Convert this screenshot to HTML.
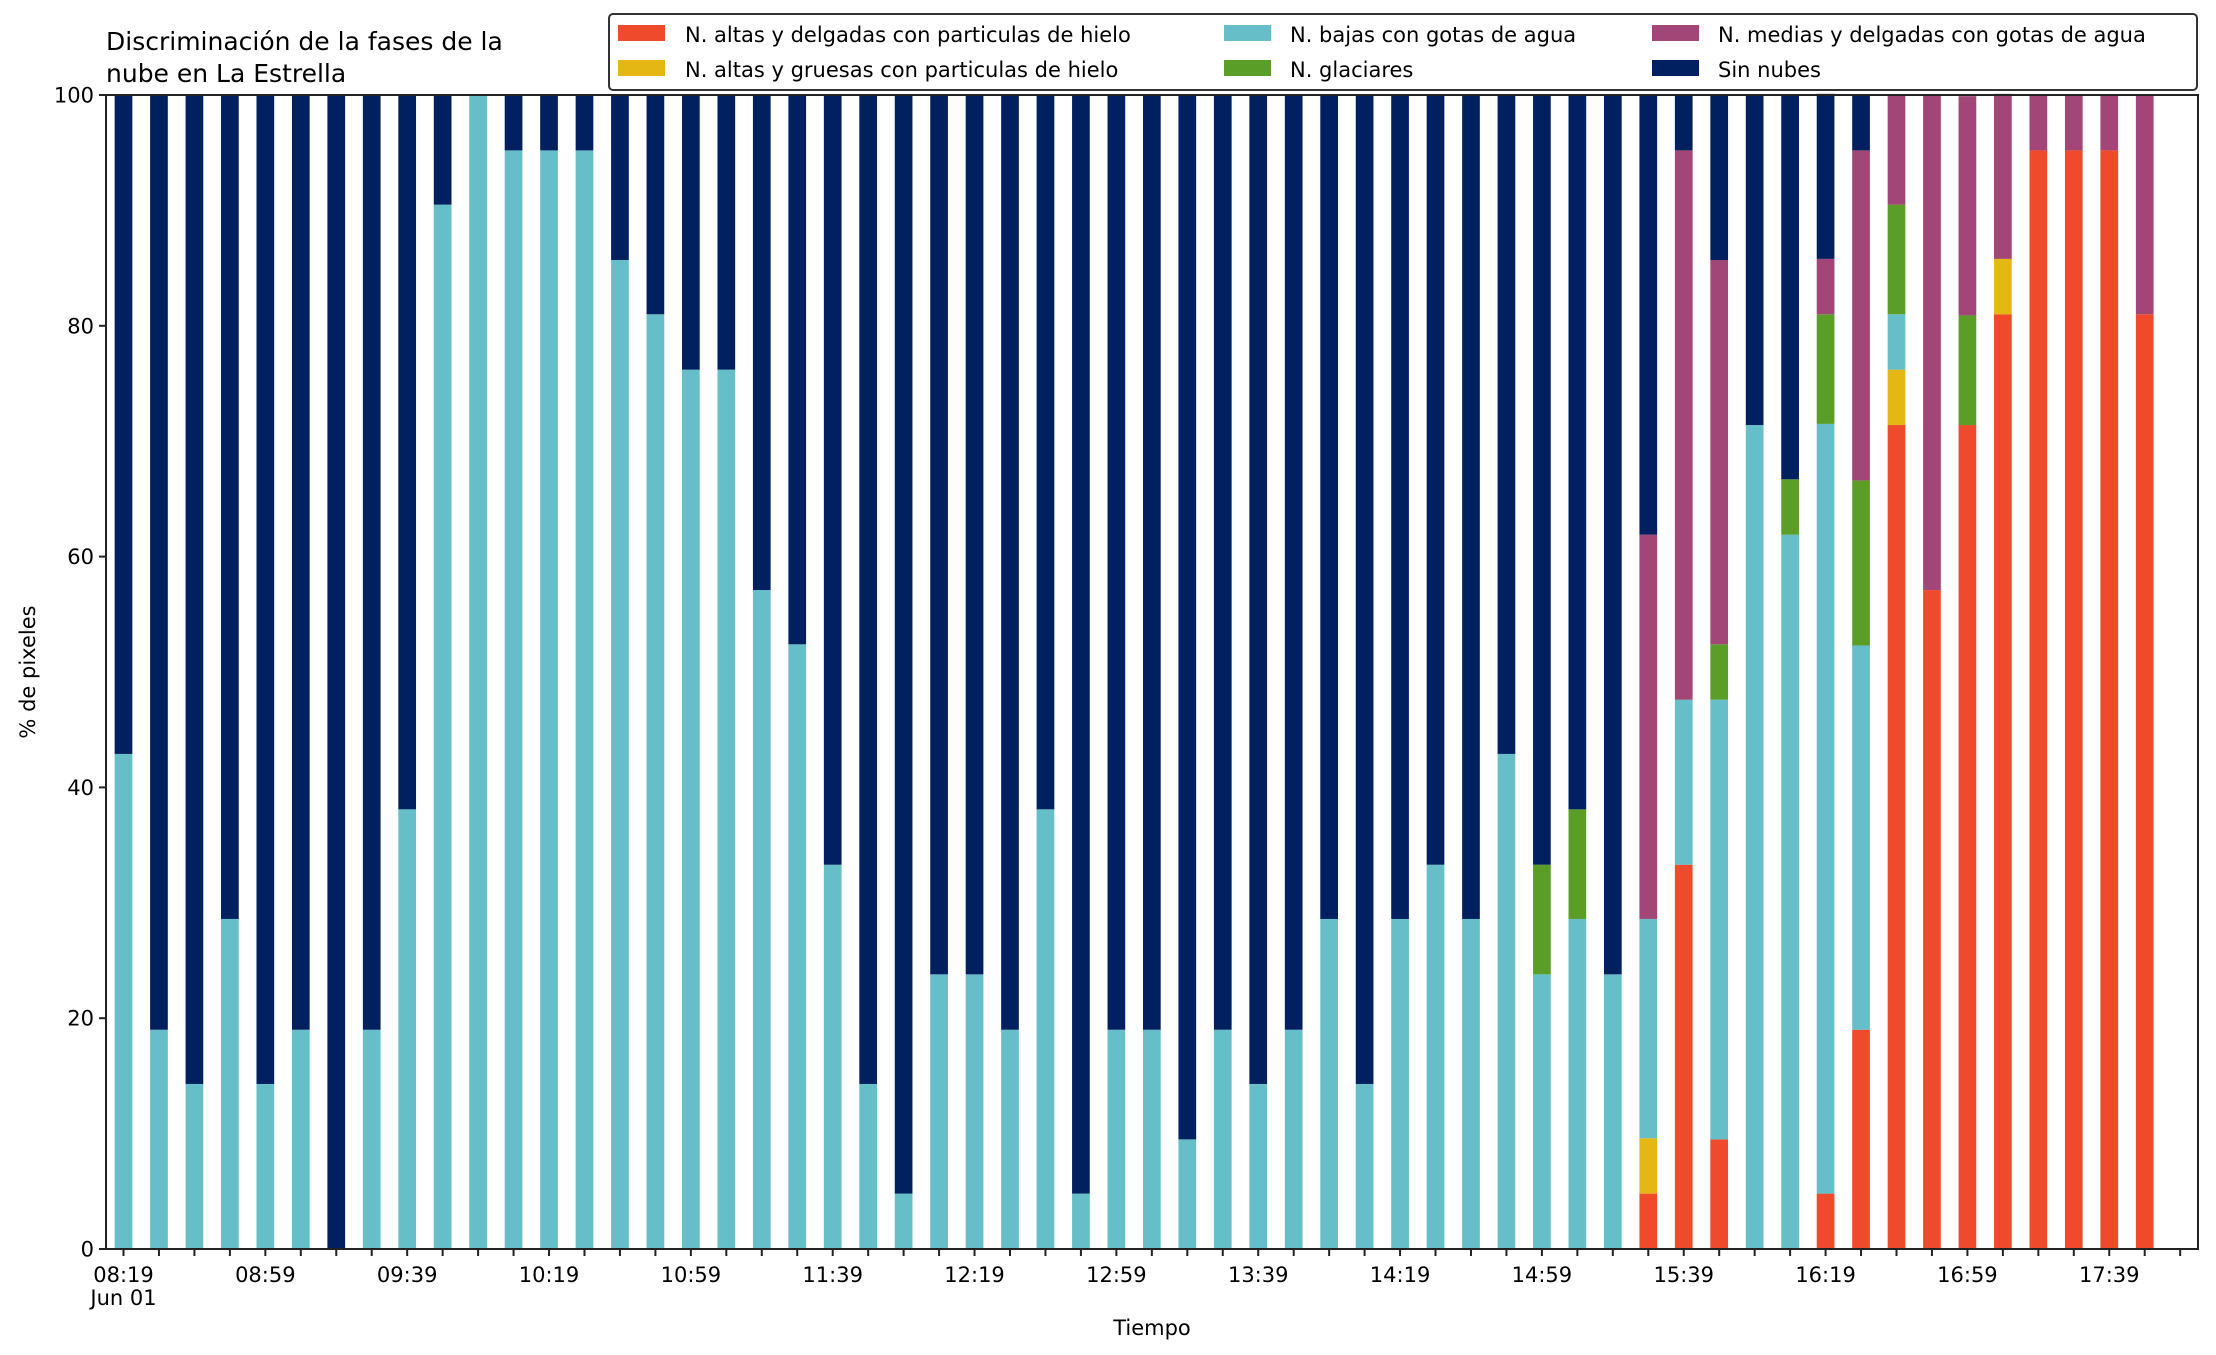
<!DOCTYPE html>
<html><head><meta charset="utf-8"><style>
html,body{margin:0;padding:0;background:#fff;}
svg{display:block;font-family:"DejaVu Sans","Liberation Sans",sans-serif;}
</style></head><body>
<svg id="chart" width="2216" height="1355" viewBox="0 0 2216 1355" xmlns="http://www.w3.org/2000/svg">
<rect x="0" y="0" width="2216" height="1355" fill="#fff"/>
<text x="106" y="50" font-size="25" fill="#000">Discriminación de la fases de la</text>
<text x="106" y="82" font-size="25" fill="#000">nube en La Estrella</text>
<g id="bars"></g>
<g id="axes"></g>
<text x="1152" y="1335" font-size="21" text-anchor="middle" fill="#000">Tiempo</text>
<text transform="translate(35,672) rotate(-90)" font-size="21" text-anchor="middle" fill="#000">% de pixeles</text>
<g>
<rect x="609" y="14" width="1588" height="76" rx="4" fill="#fff" stroke="#333" stroke-width="2"/>
<g><rect x="618" y="25" width="47" height="16" fill="#EE4A2B"/><text x="685" y="42" font-size="21">N. altas y delgadas con particulas de hielo</text></g>
<g><rect x="618" y="60" width="47" height="16" fill="#E5B714"/><text x="685" y="77" font-size="21">N. altas y gruesas con particulas de hielo</text></g>
<g><rect x="1224" y="25" width="47" height="16" fill="#65BEC8"/><text x="1290" y="42" font-size="21">N. bajas con gotas de agua</text></g>
<g><rect x="1224" y="60" width="47" height="16" fill="#5A9E28"/><text x="1290" y="77" font-size="21">N. glaciares</text></g>
<g><rect x="1652" y="25" width="47" height="16" fill="#A24577"/><text x="1718" y="42" font-size="21">N. medias y delgadas con gotas de agua</text></g>
<g><rect x="1652" y="60" width="47" height="16" fill="#012060"/><text x="1718" y="77" font-size="21">Sin nubes</text></g>
</g>
</svg>
<script>
const seriesNames = ["altas-delgadas","altas-gruesas","bajas","glaciares","medias","sin-nubes"];
const seriesColors = ["#EE4A2B","#E5B714","#65BEC8","#5A9E28","#A24577","#012060"];
const redVals = [0,0,0,0,0,0,0,0,0,0,0,0,0,0,0,0,0,0,0,0,0,0,0,0,0,0,0,0,0,0,0,0,0,0,0,0,0,0,0,0,0,0,0,4.8,33.3,9.5,0,0,4.8,19.0,71.4,57.1,71.4,81.0,95.2,95.2,95.2,81.0];
const yellowVals = [0,0,0,0,0,0,0,0,0,0,0,0,0,0,0,0,0,0,0,0,0,0,0,0,0,0,0,0,0,0,0,0,0,0,0,0,0,0,0,0,0,0,0,4.8,0,0,0,0,0,0,4.8,0,0,4.8,0,0,0,0];
const cyanVals = [42.9,19.0,14.3,28.6,14.3,19.0,0,19.0,38.1,90.5,100,95.2,95.2,95.2,85.7,81.0,76.2,76.2,57.1,52.4,33.3,14.3,4.8,23.8,23.8,19.0,38.1,4.8,19.0,19.0,9.5,19.0,14.3,19.0,28.6,14.3,28.6,33.3,28.6,42.9,23.8,28.6,23.8,19.0,14.3,38.1,71.4,61.9,66.7,33.3,4.8,0,0,0,0,0,0,0];
const greenVals = [0,0,0,0,0,0,0,0,0,0,0,0,0,0,0,0,0,0,0,0,0,0,0,0,0,0,0,0,0,0,0,0,0,0,0,0,0,0,0,0,9.5,9.5,0,0,0,4.8,0,4.8,9.5,14.3,9.5,0,9.5,0,0,0,0,0];
const magentaVals = [0,0,0,0,0,0,0,0,0,0,0,0,0,0,0,0,0,0,0,0,0,0,0,0,0,0,0,0,0,0,0,0,0,0,0,0,0,0,0,0,0,0,0,33.3,47.6,33.3,0,0,4.8,28.6,9.5,42.9,19.0,14.3,4.8,4.8,4.8,19.0];
const darkVals = [57.1,81.0,85.7,71.4,85.7,81.0,100,81.0,61.9,9.5,0,4.8,4.8,4.8,14.3,19.0,23.8,23.8,42.9,47.6,66.7,85.7,95.2,76.2,76.2,81.0,61.9,95.2,81.0,81.0,90.5,81.0,85.7,81.0,71.4,85.7,71.4,66.7,71.4,57.1,66.7,61.9,76.2,38.1,4.8,14.3,28.6,33.3,14.3,4.8,0,0,0,0,0,0,0,0];
const xTickLabels = ["08:19","08:59","09:39","10:19","10:59","11:39","12:19","12:59","13:39","14:19","14:59","15:39","16:19","16:59","17:39"];
const yTickLabels = [0,20,40,60,80,100];

const NS = "http://www.w3.org/2000/svg";
const allSeries = [redVals,yellowVals,cyanVals,greenVals,magentaVals,darkVals];
const nBars = redVals.length;
const X0 = 106, X1 = 2198, Y0 = 1249, Y1 = 95;
const step = 35.46, firstX = 123.5, barW = 17.7;
function xScale(i){ return firstX + i*step; }
function yScale(v){ return Y0 - (v/100)*(Y0-Y1); }
function mk(tag, attrs, parent){ const e=document.createElementNS(NS,tag); for(const k in attrs) e.setAttribute(k,attrs[k]); parent.appendChild(e); return e; }

const barsG = document.getElementById('bars');
for(let i=0;i<nBars;i++){
  let base = 0;
  for(let s=0;s<allSeries.length;s++){
    const v = allSeries[s][i];
    if(v>0){
      const r = mk('rect',{x:(xScale(i)-barW/2).toFixed(2), y:yScale(base+v).toFixed(2), width:barW, height:(yScale(base)-yScale(base+v)).toFixed(2), fill:seriesColors[s]}, barsG);
      
      
    }
    base += v;
  }
}

const ax = document.getElementById('axes');
const frame = mk('rect',{x:X0,y:Y1,width:X1-X0,height:Y0-Y1,fill:'none',stroke:'#222','stroke-width':2},ax);


for(const v of yTickLabels){
  const y=yScale(v);
  const t=mk('line',{x1:X0-7,x2:X0,y1:y,y2:y,stroke:'#222','stroke-width':2},ax);
  
  
  const l=mk('text',{x:X0-12,y:y+7.5,'font-size':21,'text-anchor':'end',fill:'#000'},ax);
  l.textContent=String(v);
  
  
}
for(let i=0;i<=nBars;i++){
  const x=xScale(i);
  const t=mk('line',{x1:x,x2:x,y1:Y0,y2:Y0+7,stroke:'#222','stroke-width':2},ax);
  
  
}
for(let k=0;k<xTickLabels.length;k++){
  const x=xScale(k*4);
  const l=mk('text',{x:x,y:1282,'font-size':21,'text-anchor':'middle',fill:'#000'},ax);
  l.textContent=xTickLabels[k];
  
  
}
const d=mk('text',{x:xScale(0),y:1305,'font-size':21,'text-anchor':'middle',fill:'#000'},ax);
d.textContent='Jun 01';


</script>
</body></html>
